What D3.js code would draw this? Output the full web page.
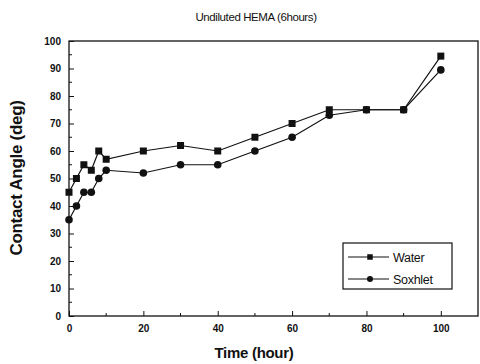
<!DOCTYPE html>
<html>
<head>
<meta charset="utf-8">
<script src="https://cdn.jsdelivr.net/npm/d3@7"></script>
<style>
  body { margin: 0; background: #fff; }
  svg { display: block; font-family: Arial, "Liberation Sans", sans-serif; }
</style>
</head>
<body>
<svg id="chart" width="480" height="364"></svg>
<script>
// data
const hours = [0, 2, 4, 6, 8, 10, 20, 30, 40, 50, 60, 70, 80, 90, 100];
const water = [45, 50, 55, 53, 60, 57, 60, 62, 60, 65, 70, 75, 75, 75, 94.5];
const soxhlet = [35, 40, 45, 45, 50, 53, 52, 55, 55, 60, 65, 73, 75, 75, 89.5];
const xTicks = [0, 20, 40, 60, 80, 100];
const yTicks = [0, 10, 20, 30, 40, 50, 60, 70, 80, 90, 100];

const margin = {top: 41, right: 2, bottom: 48, left: 69};
const width = 480 - margin.left - margin.right;
const height = 364 - margin.top - margin.bottom;

const svg = d3.select('#chart');
const chart = svg.append('g')
    .attr('transform', `translate(${margin.left},${margin.top})`);

const xScale = d3.scaleLinear().domain([0, 110]).range([0, width]);
const yScale = d3.scaleLinear().domain([0, 100]).range([height, 0]);

// frame
chart.append('rect')
    .attr('width', width).attr('height', height)
    .attr('fill', 'none').attr('stroke', '#111').attr('stroke-width', 1.3);

// axes, ticks pointing inward
const xAxis = d3.axisBottom(xScale).tickValues(xTicks).tickSizeInner(-5).tickSizeOuter(0).tickPadding(9);
const yAxis = d3.axisLeft(yScale).tickValues(yTicks).tickSizeInner(-5).tickSizeOuter(0).tickPadding(8);

const xAxisG = chart.append('g').attr('transform', `translate(0,${height})`).call(xAxis);
const yAxisG = chart.append('g').call(yAxis);

// minor ticks
chart.append('g').selectAll('line')
    .data(d3.range(10, 110, 20))
    .join('line')
    .attr('x1', d => xScale(d)).attr('x2', d => xScale(d))
    .attr('y1', height).attr('y2', height - 3)
    .attr('stroke', '#111');
chart.append('g').selectAll('line')
    .data(d3.range(5, 100, 10))
    .join('line')
    .attr('y1', d => yScale(d)).attr('y2', d => yScale(d))
    .attr('x1', 0).attr('x2', 3)
    .attr('stroke', '#111');

[xAxisG, yAxisG].forEach(g => {
  g.select('.domain').remove();
  g.selectAll('.tick line').attr('stroke', '#111');
  g.selectAll('text')
      .attr('fill', '#111')
      .style('font-size', '10px')
      .style('font-weight', 'bold');
});

// series
const series = [
  {name: 'Water', values: water, shape: 'square'},
  {name: 'Soxhlet', values: soxhlet, shape: 'circle'}
];

const line = d3.line()
    .x(d => xScale(d[0]))
    .y(d => yScale(d[1]));

function drawMarker(sel, shape, size) {
  if (shape === 'square') {
    sel.append('rect')
        .attr('x', -size / 2).attr('y', -size / 2)
        .attr('width', size).attr('height', size)
        .attr('fill', '#111');
  } else {
    sel.append('circle').attr('r', size / 2 + 0.3).attr('fill', '#111');
  }
}

series.forEach(s => {
  const pts = hours.map((h, i) => [h, s.values[i]]);
  chart.append('path')
      .datum(pts)
      .attr('d', line)
      .attr('fill', 'none')
      .attr('stroke', '#111')
      .attr('stroke-width', 1.2);
  chart.append('g').selectAll('g')
      .data(pts)
      .join('g')
      .attr('transform', d => `translate(${xScale(d[0])},${yScale(d[1])})`)
      .each(function() { drawMarker(d3.select(this), s.shape, 7); });
});

// legend
const legend = svg.append('g').attr('transform', 'translate(343,243)');
legend.append('rect')
    .attr('width', 109).attr('height', 46)
    .attr('fill', '#fff').attr('stroke', '#111').attr('stroke-width', 1.2);
series.forEach((s, i) => {
  const row = legend.append('g').attr('transform', `translate(0,${14 + i * 22})`);
  row.append('line')
      .attr('x1', 5).attr('x2', 46)
      .attr('stroke', '#111').attr('stroke-width', 1.2);
  drawMarker(row.append('g').attr('transform', 'translate(27,0)'), s.shape, 5.5);
  row.append('text')
      .attr('x', 50).attr('y', 4.5)
      .attr('fill', '#111')
      .style('font-size', '12.5px')
      .style('letter-spacing', '-0.3px')
      .text(s.name);
});

// titles
svg.append('text')
    .attr('x', 256).attr('y', 21)
    .attr('text-anchor', 'middle')
    .attr('fill', '#111')
    .style('font-size', '11.5px')
    .style('letter-spacing', '-0.4px')
    .text('Undiluted HEMA (6hours)');

svg.append('text')
    .attr('x', 254).attr('y', 358)
    .attr('text-anchor', 'middle')
    .attr('fill', '#111')
    .style('font-size', '15px')
    .style('font-weight', 'bold')
    .style('letter-spacing', '-0.3px')
    .text('Time (hour)');

svg.append('text')
    .attr('transform', 'translate(22,178) rotate(-90)')
    .attr('text-anchor', 'middle')
    .attr('fill', '#111')
    .style('font-size', '17px')
    .style('font-weight', 'bold')
    .style('letter-spacing', '-0.3px')
    .text('Contact Angle (deg)');
</script>
</body>
</html>
